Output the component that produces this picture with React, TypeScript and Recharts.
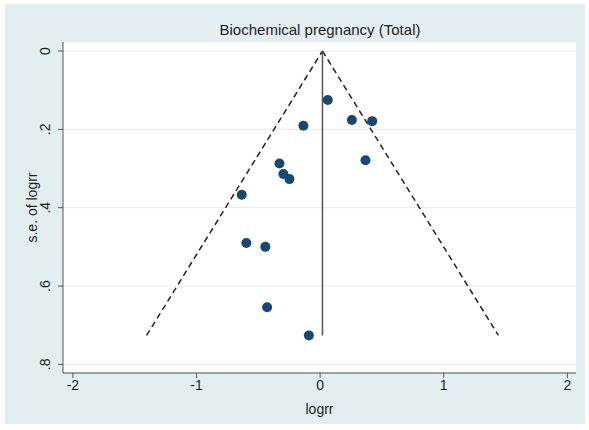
import React from 'react';
import {
  ScatterChart, Scatter, XAxis, YAxis, CartesianGrid, ReferenceLine, Label,
} from 'recharts';

// study effects: log risk ratio vs its standard error
const LOGRR = [0.062, 0.257, 0.421, -0.135, -0.329, -0.297, -0.248, 0.367, -0.634, -0.597, -0.443, -0.429, -0.091];
const SE = [0.125, 0.176, 0.179, 0.191, 0.287, 0.314, 0.327, 0.279, 0.367, 0.49, 0.5, 0.654, 0.726];

// pooled estimate and pseudo 95% limits at the largest s.e.
const POOLED = [0.019, 0.019];
const POOLED_SE = [0, 0.726];
const FUNNEL_X = [-1.404, 0.019, 1.442];
const FUNNEL_SE = [0.726, 0, 0.726];

const X_TICKS = [-2, -1, 0, 1, 2];
const Y_TICKS = [0, 0.2, 0.4, 0.6, 0.8];

const studies = LOGRR.map((x, i) => ({ x, y: SE[i] }));

const FONT = '"Liberation Sans", Arial, Helvetica, sans-serif';
const INK = '#1e1e1e';
const NAVY = '#1a476f';

const fmtSe = (v: number) => (v === 0 ? '0' : `.${Math.round(v * 10)}`);

const YTick = ({ x, y, payload }: { x?: number; y?: number; payload?: { value: number } }) => {
  const cx = (x ?? 0) - 6;
  const cy = y ?? 0;
  return (
    <text
      x={cx}
      y={cy}
      transform={`rotate(-90 ${cx} ${cy})`}
      textAnchor="middle"
      fontSize={14}
      fill={INK}
      fontFamily={FONT}
    >
      {fmtSe(payload?.value ?? 0)}
    </text>
  );
};

const Dot = ({ cx, cy }: { cx?: number; cy?: number }) => (
  <circle cx={cx} cy={cy} r={5} fill={NAVY} />
);

export default function App() {
  return (
    <div style={{ position: 'absolute', left: 0, top: 0, width: 589, height: 430, background: '#fff' }}>
      <div style={{ position: 'absolute', left: 5, top: 4, width: 580, height: 420, background: '#e2eef0' }}>
        <div
          style={{
            position: 'absolute', left: 0, top: 17, width: 630, textAlign: 'center',
            fontFamily: FONT, fontSize: 15, color: INK,
          }}
        >
          Biochemical pregnancy (Total)
        </div>
        <ScatterChart width={580} height={420} margin={{ top: 38, right: 9, bottom: 0, left: 0 }}>
          <CartesianGrid fill="#fff" stroke="#e6eef1" strokeWidth={1.2} vertical={false} />
          <XAxis
            type="number"
            dataKey="x"
            domain={[-2.08, 2.07]}
            ticks={X_TICKS}
            allowDataOverflow
            height={51}
            stroke="#555"
            tickSize={5}
            tick={{ fontSize: 14, fill: INK, fontFamily: FONT }}
          >
            <Label value="logrr" position="insideBottom" offset={10} fontSize={14} fill={INK} fontFamily={FONT} />
          </XAxis>
          <YAxis
            type="number"
            dataKey="y"
            domain={[-0.023, 0.822]}
            reversed
            ticks={Y_TICKS}
            allowDataOverflow
            width={58}
            stroke="#555"
            tickSize={5}
            tick={<YTick />}
          >
            <Label
              value="s.e. of logrr"
              angle={-90}
              position="insideLeft"
              offset={27}
              fontSize={14}
              fill={INK}
              fontFamily={FONT}
              style={{ textAnchor: 'middle' }}
            />
          </YAxis>
          <ReferenceLine
            segment={[{ x: FUNNEL_X[0], y: FUNNEL_SE[0] }, { x: FUNNEL_X[1], y: FUNNEL_SE[1] }]}
            stroke="#222"
            strokeWidth={1.5}
            strokeDasharray="6 4"
          />
          <ReferenceLine
            segment={[{ x: FUNNEL_X[1], y: FUNNEL_SE[1] }, { x: FUNNEL_X[2], y: FUNNEL_SE[2] }]}
            stroke="#222"
            strokeWidth={1.5}
            strokeDasharray="6 4"
          />
          <ReferenceLine
            segment={[{ x: POOLED[0], y: POOLED_SE[0] }, { x: POOLED[1], y: POOLED_SE[1] }]}
            stroke="#555"
            strokeWidth={1.5}
          />
          <Scatter data={studies} fill={NAVY} isAnimationActive={false} shape={<Dot />} />
        </ScatterChart>
      </div>
    </div>
  );
}
